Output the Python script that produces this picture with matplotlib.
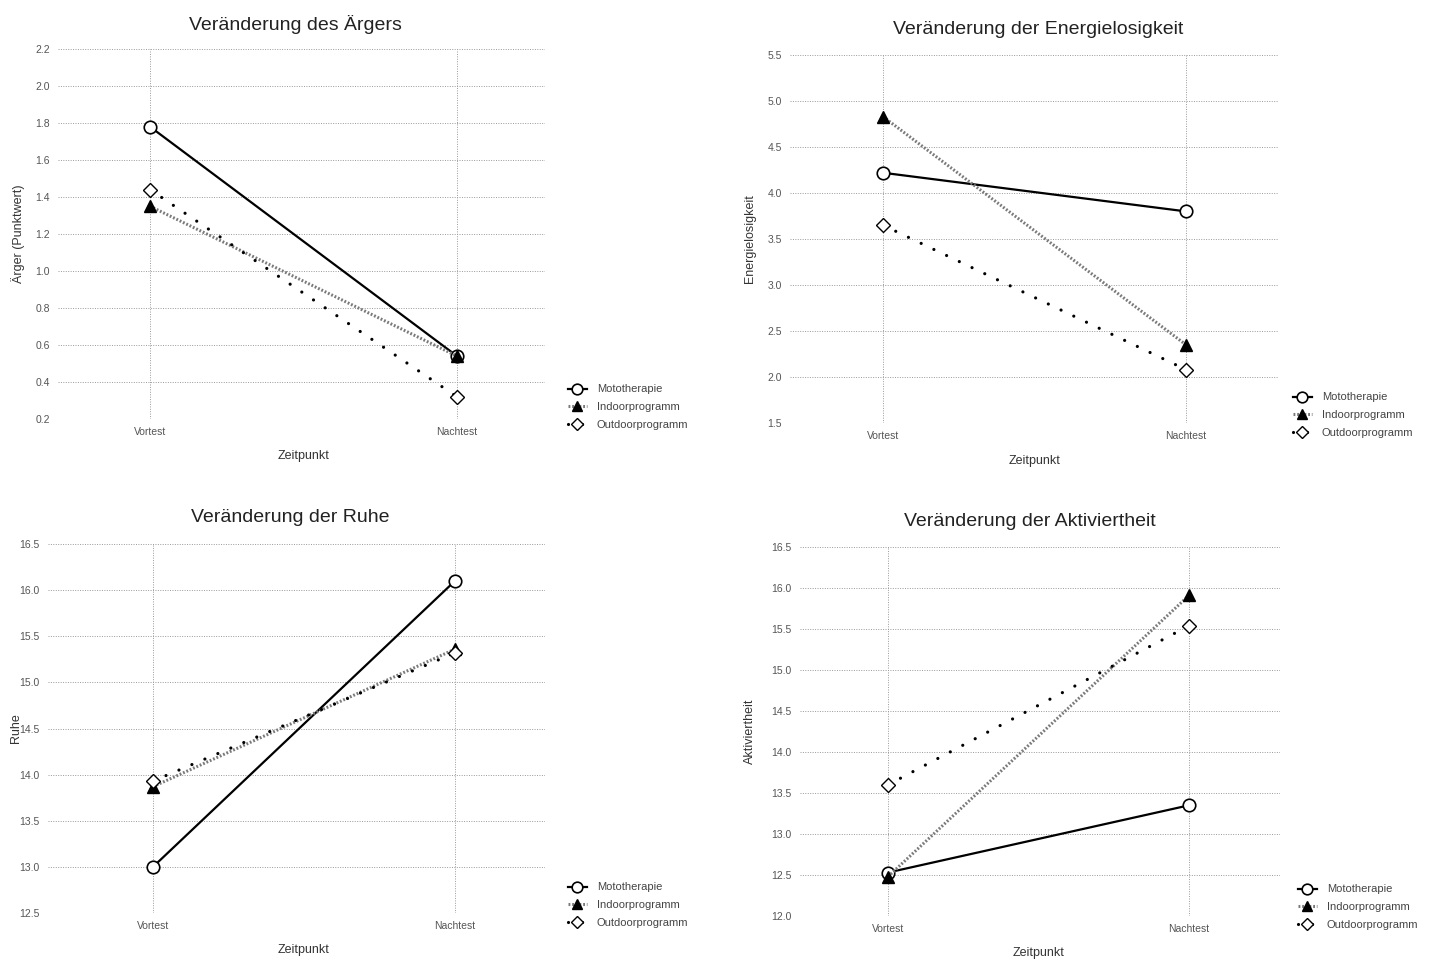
import matplotlib
matplotlib.use("Agg")
import matplotlib.pyplot as plt
import numpy as np

plt.rcParams['font.family'] = ['Liberation Sans', 'DejaVu Sans']

zeitpunkte = ['Vortest', 'Nachtest']
gruppen = ['Mototherapie', 'Indoorprogramm', 'Outdoorprogramm']

# Mittelwerte je Gruppe (Vortest, Nachtest)
aerger = {'Mototherapie': [1.78, 0.54], 'Indoorprogramm': [1.35, 0.54], 'Outdoorprogramm': [1.44, 0.32]}
energie = {'Mototherapie': [4.22, 3.80], 'Indoorprogramm': [4.83, 2.35], 'Outdoorprogramm': [3.65, 2.08]}
ruhe = {'Mototherapie': [13.0, 16.1], 'Indoorprogramm': [13.87, 15.36], 'Outdoorprogramm': [13.93, 15.32]}
aktiv = {'Mototherapie': [12.53, 13.35], 'Indoorprogramm': [12.48, 15.91], 'Outdoorprogramm': [13.60, 15.54]}

titel = ['Veränderung des Ärgers', 'Veränderung der Energielosigkeit',
         'Veränderung der Ruhe', 'Veränderung der Aktiviertheit']
ylabels = ['Ärger (Punktwert)', 'Energielosigkeit', 'Ruhe', 'Aktiviertheit']
yticks = [np.arange(0.2, 2.21, 0.2), np.arange(1.5, 5.51, 0.5),
          np.arange(12.5, 16.51, 0.5), np.arange(12.0, 16.51, 0.5)]

W, H = 1436, 963
fig = plt.figure(figsize=(W / 100, H / 100), dpi=100)

# pixel boxes: left, right, top, bottom ; x positions of Vortest/Nachtest
boxes = [(58, 545, 49, 419, 150, 457),
         (790, 1278, 55, 423, 883, 1186),
         (48, 545, 544, 913, 153, 455),
         (800, 1280, 547, 916, 888, 1189)]
title_xy = [(295, 25), (1038, 29), (290, 518), (1030, 522)]
xlab_y = [456, 461, 950, 953]
ylab_x = [18, 750, 16, 750]
leg_pos = [(558, 440), (1283, 448), (558, 938), (1288, 940)]

styles = {
    'Mototherapie': dict(color='black', lw=1.6, ls='-', marker='o', ms=9,
                         mfc='white', mec='black', mew=1.2),
    'Indoorprogramm': dict(color='#7a7a7a', lw=2.2, ls=(0, (0.6, 0.6)), marker='^', ms=9,
                           mfc='black', mec='black', mew=1.0),
    'Outdoorprogramm': dict(color='black', lw=2.3, ls=(0, (0.01, 4.4)), marker='D', ms=7,
                            mfc='white', mec='black', mew=1.0, dash_capstyle='round'),
}

datasets = [aerger, energie, ruhe, aktiv]

for i, data in enumerate(datasets):
    l, r, t, b, x0, x1 = boxes[i]
    ax = fig.add_axes([l / W, 1 - b / H, (r - l) / W, (b - t) / H])
    sc = x1 - x0
    ax.set_xlim((l - x0) / sc, (r - x0) / sc)
    ax.set_ylim(yticks[i][0], yticks[i][-1])
    for s in ax.spines.values():
        s.set_visible(False)
    ax.set_yticks(yticks[i])
    ax.set_yticklabels(['%.1f' % v for v in yticks[i]])
    ax.set_xticks([0, 1])
    ax.set_xticklabels(zeitpunkte)
    ax.tick_params(length=0, labelsize=7.5, labelcolor='#555555', pad=6)
    ax.grid(True, ls=(0, (1, 1.5)), color='#999999', lw=0.7)
    ax.set_axisbelow(True)

    xs = np.arange(len(zeitpunkte))
    for g in gruppen:
        ax.plot(xs, data[g], label=g, zorder=3, **styles[g])

    tx, ty = title_xy[i]
    fig.text(tx / W, 1 - ty / H, titel[i], ha='center', va='center',
             fontsize=14, color='#222222')
    fig.text((x0 + x1) / 2 / W, 1 - xlab_y[i] / H, 'Zeitpunkt', ha='center', va='center',
             fontsize=9, color='#333333')
    fig.text(ylab_x[i] / W, 1 - (t + b) / 2 / H, ylabels[i], ha='center', va='center',
             rotation=90, fontsize=9, color='#333333')

    lx, ly = leg_pos[i]
    ax.legend(loc='lower left', bbox_to_anchor=(lx / W, 1 - ly / H),
              bbox_transform=fig.transFigure, frameon=False, fontsize=8,
              handlelength=1.7, handletextpad=0.9, labelspacing=0.7,
              markerscale=0.85, labelcolor='#444444')

fig.savefig('out.png', dpi=100)
